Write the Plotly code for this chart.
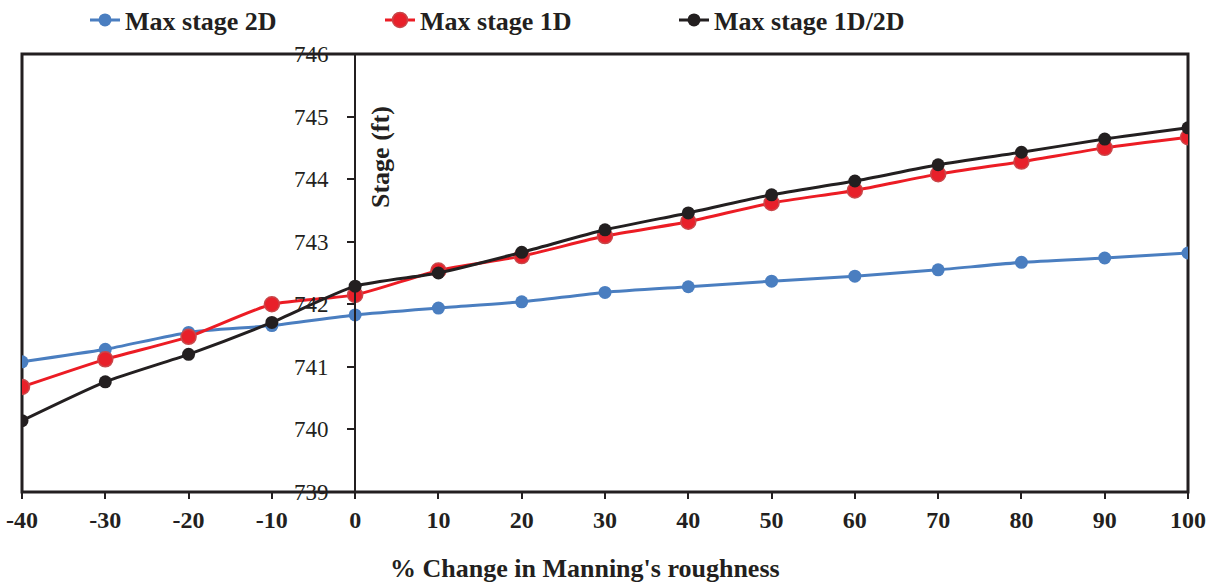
import plotly.graph_objects as go

change_pct = [-40, -30, -20, -10, 0, 10, 20, 30, 40, 50, 60, 70, 80, 90, 100]
stage_2d = [741.08, 741.28, 741.55, 741.66, 741.83, 741.94, 742.04, 742.19, 742.28,
            742.37, 742.45, 742.55, 742.67, 742.74, 742.82]
stage_1d = [740.68, 741.12, 741.48, 742.00, 742.15, 742.54, 742.77, 743.09, 743.32,
            743.62, 743.82, 744.08, 744.28, 744.50, 744.67]
stage_1d2d = [740.14, 740.76, 741.20, 741.71, 742.29, 742.50, 742.83, 743.19, 743.46,
              743.75, 743.97, 744.23, 744.43, 744.64, 744.82]
x_ticks = [-40, -30, -20, -10, 0, 10, 20, 30, 40, 50, 60, 70, 80, 90, 100]
y_ticks = [739, 740, 741, 742, 743, 744, 745, 746]

SERIF = "Liberation Serif, Times New Roman, serif"
W, H = 1220, 585
L, R, T, B = 22, 32, 54, 93

fig = go.Figure()
fig.add_trace(go.Scatter(
    x=change_pct, y=stage_2d, name="Max stage 2D", mode="lines+markers",
    line=dict(color="#4A7EC0", width=3, shape="spline", smoothing=0.6),
    marker=dict(color="#4A7EC0", size=13), legend="legend"))
fig.add_trace(go.Scatter(
    x=change_pct, y=stage_1d, name="Max stage 1D", mode="lines+markers",
    line=dict(color="#EC1C24", width=3, shape="spline", smoothing=0.6),
    marker=dict(color="#E8202A", size=15, line=dict(color="#C9474A", width=1.5)),
    legend="legend2"))
fig.add_trace(go.Scatter(
    x=change_pct, y=stage_1d2d, name="Max stage 1D/2D", mode="lines+markers",
    line=dict(color="#231F20", width=3, shape="spline", smoothing=0.6),
    marker=dict(color="#231F20", size=13), legend="legend3"))

leg_common = dict(orientation="h", xref="container", yref="container",
                  xanchor="left", yanchor="middle", y=1 - 20 / H,
                  font=dict(family=SERIF, size=26, color="#231F20", weight="bold"),
                  bgcolor="rgba(0,0,0,0)", itemwidth=30, itemsizing="trace")

fig.update_layout(
    width=W, height=H,
    margin=dict(l=L, r=R, t=T, b=B, autoexpand=False),
    paper_bgcolor="white", plot_bgcolor="white",
    showlegend=True,
    legend=dict(leg_common, x=(125 - 40) / W),
    legend2=dict(leg_common, x=(420 - 40) / W),
    legend3=dict(leg_common, x=(714 - 40) / W),
    xaxis=dict(range=[-40, 100], tickvals=x_ticks, ticktext=[str(v) for v in x_ticks],
               ticks="outside", ticklen=6, tickwidth=2, tickcolor="#231F20",
               showgrid=False, zeroline=False, showline=False,
               tickfont=dict(family=SERIF, size=24, color="#231F20", weight="bold"),
               automargin=False),
    yaxis=dict(range=[739, 746], tickvals=y_ticks, ticktext=[str(v) for v in y_ticks],
               anchor="free", position=(0 - (-40)) / 140,
               ticks="outside", ticklen=7, tickwidth=2, tickcolor="#231F20",
               showline=True, linewidth=2, linecolor="#231F20",
               showgrid=False, zeroline=False, ticklabelstandoff=14,
               tickfont=dict(family=SERIF, size=23, color="#231F20"),
               automargin=False),
)

fig.add_shape(type="rect", xref="x domain", yref="y domain", x0=0, x1=1, y0=0, y1=1,
              line=dict(color="#231F20", width=3), layer="below")

plot_h = H - T - B
plot_w = W - L - R
fig.add_annotation(text="% Change in Manning's roughness", xref="paper", yref="paper",
                   x=(585 - L) / plot_w, y=-(568 - (H - B)) / plot_h, showarrow=False,
                   xanchor="center", yanchor="middle",
                   font=dict(family=SERIF, size=26, color="#231F20", weight="bold"))
fig.add_annotation(text="Stage (ft)", xref="paper", yref="paper",
                   x=(380 - L) / plot_w, y=((H - B) - 157) / plot_h,
                   showarrow=False, textangle=-90, xanchor="center", yanchor="middle",
                   font=dict(family=SERIF, size=26, color="#231F20", weight="bold"))

fig.write_html("out.html")
